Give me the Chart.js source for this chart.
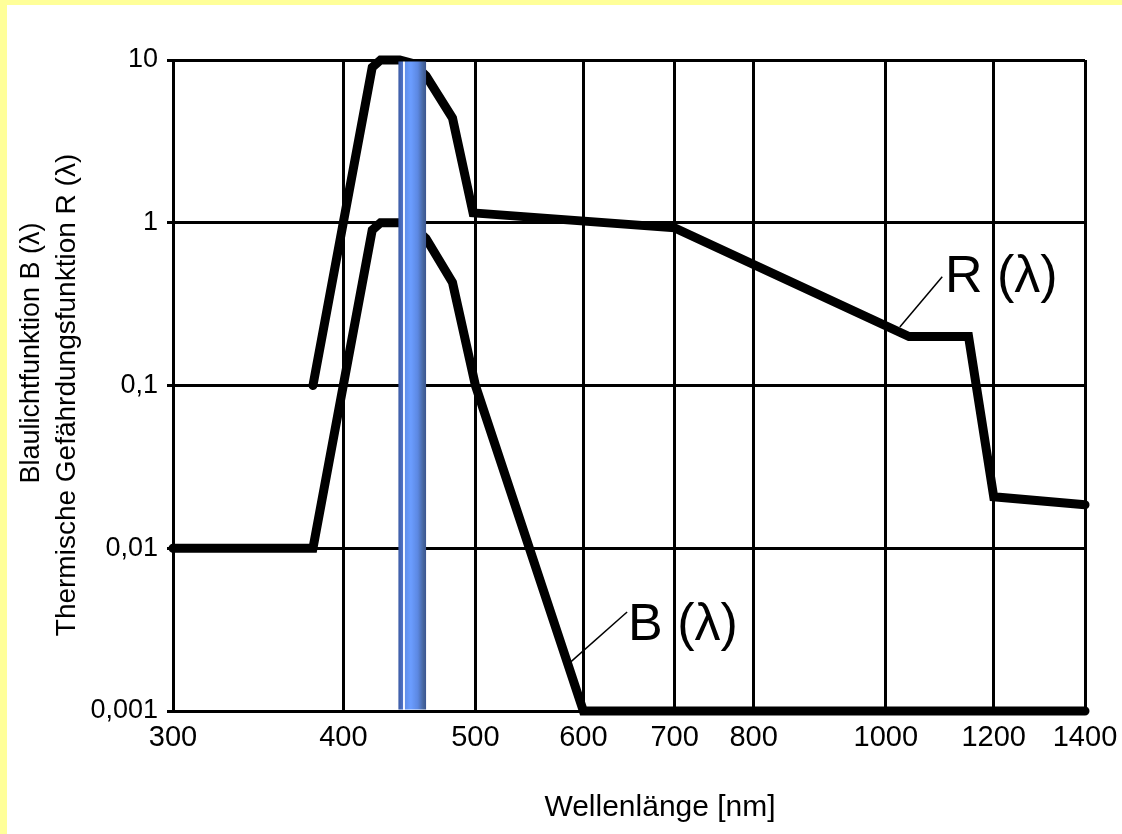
<!DOCTYPE html>
<html>
<head>
<meta charset="utf-8">
<title>Blaulicht- und Thermische Gefährdungsfunktion</title>
<script src="https://cdn.jsdelivr.net/npm/chart.js@4.4.1/dist/chart.umd.min.js"></script>
<style>
  html, body { margin: 0; padding: 0; }
  body { width: 1122px; height: 834px; background: #ffff99; position: relative; overflow: hidden; }
  #myChart { position: absolute; left: 7px; top: 5px; background: #ffffff; }
</style>
</head>
<body>
<canvas id="myChart" width="1115" height="829"></canvas>
<script>
// Blue light hazard function B(lambda)
const wavelengthB = [300, 380, 420, 426, 440, 450, 460, 481, 500, 600, 1400];
const valuesB = [0.01, 0.01, 0.9, 1.0, 1.0, 0.95, 0.8, 0.43, 0.1, 0.001, 0.001];

// Thermal hazard function R(lambda)
const wavelengthR = [380, 420, 426, 440, 450, 460, 481, 498, 700, 1040, 1150, 1200, 1400];
const valuesR = [0.1, 9, 10, 10, 9.5, 8, 4.4, 1.15, 0.93, 0.2, 0.2, 0.0207, 0.0185];

// blue band (nm)
const band = [439, 460];

const xTicks = [300, 400, 500, 600, 700, 800, 1000, 1200, 1400];
const yTicks = [0.001, 0.01, 0.1, 1, 10];

const xTitle = "Wellenlänge [nm]";
const yTitle = ["Blaulichtfunktion B (λ)", "Thermische Gefährdungsfunktion R (λ)"];

const FONT = '"Liberation Sans", Arial, sans-serif';

function toPoints(xs, ys) {
  return xs.map((x, i) => ({ x: x, y: ys[i] }));
}

// the blue bar, drawn over the curves
const bandPlugin = {
  id: "band",
  afterDatasetsDraw(chart) {
    const { ctx, chartArea, scales } = chart;
    const x0 = scales.x.getPixelForValue(band[0]);
    const x1 = scales.x.getPixelForValue(band[1]);
    const g = ctx.createLinearGradient(x0, 0, x1, 0);
    g.addColorStop(0, "#3d5ca6");
    g.addColorStop(0.16, "#4e72c6");
    g.addColorStop(0.18, "#f4f7ff");
    g.addColorStop(0.22, "#f4f7ff");
    g.addColorStop(0.24, "#5f8eea");
    g.addColorStop(0.45, "#6b9dff");
    g.addColorStop(0.7, "#5c88e2");
    g.addColorStop(0.9, "#46669f");
    g.addColorStop(1, "#3a5590");
    ctx.save();
    ctx.fillStyle = g;
    ctx.fillRect(x0, chartArea.top + 1.5, x1 - x0, chartArea.bottom - chartArea.top - 3);
    ctx.restore();
  }
};

// curve names with leader lines
const labelPlugin = {
  id: "curveLabels",
  afterDraw(chart, args, opts) {
    const { ctx, scales } = chart;
    ctx.save();
    opts.items.forEach(function (it) {
      ctx.strokeStyle = "#000";
      ctx.lineWidth = 1.5;
      ctx.beginPath();
      ctx.moveTo(scales.x.getPixelForValue(it.from[0]), scales.y.getPixelForValue(it.from[1]));
      ctx.lineTo(scales.x.getPixelForValue(it.to[0]), scales.y.getPixelForValue(it.to[1]));
      ctx.stroke();
      ctx.fillStyle = "#000";
      ctx.font = "52px " + FONT;
      ctx.textBaseline = "alphabetic";
      ctx.textAlign = "left";
      ctx.fillText(it.text, scales.x.getPixelForValue(it.at[0]), scales.y.getPixelForValue(it.at[1]));
    });
    ctx.restore();
  }
};

// axis titles (the x title sits right of centre, the two y lines are offset)
const titlePlugin = {
  id: "axisTitles",
  afterDraw(chart, args, opts) {
    const ctx = chart.ctx;
    ctx.save();
    ctx.fillStyle = "#000";
    ctx.textAlign = "center";
    ctx.textBaseline = "middle";
    ctx.font = opts.xSize + "px " + FONT;
    ctx.fillText(xTitle, opts.xPos[0], opts.xPos[1]);
    yTitle.forEach(function (line, i) {
      ctx.save();
      ctx.translate(opts.yPos[i][0], opts.yPos[i][1]);
      ctx.rotate(-Math.PI / 2);
      ctx.font = opts.ySizes[i] + "px " + FONT;
      ctx.fillText(line, 0, 0);
      ctx.restore();
    });
    ctx.restore();
  }
};

function noScalePadding(s) {
  s.paddingLeft = 0;
  s.paddingRight = 0;
  s.paddingTop = 0;
  s.paddingBottom = 0;
}

new Chart("myChart", {
  type: "line",
  data: {
    datasets: [
      {
        label: "B (λ)",
        data: toPoints(wavelengthB, valuesB),
        borderColor: "#000",
        borderWidth: 9,
        borderCapStyle: "round",
        borderJoinStyle: "miter",
        pointRadius: 0,
        clip: false
      },
      {
        label: "R (λ)",
        data: toPoints(wavelengthR, valuesR),
        borderColor: "#000",
        borderWidth: 9,
        borderCapStyle: "round",
        borderJoinStyle: "miter",
        pointRadius: 0,
        clip: false
      }
    ]
  },
  options: {
    responsive: false,
    animation: false,
    devicePixelRatio: 1,
    layout: { padding: { left: 0, top: 55, right: 37, bottom: 0 } },
    plugins: {
      legend: { display: false },
      tooltip: { enabled: false },
      curveLabels: {
        items: [
          { text: "R (λ)", at: [1105, 0.377], from: [1024, 0.229], to: [1100, 0.466] },
          { text: "B (λ)", at: [647, 0.00274], from: [584, 0.00192], to: [646, 0.00406] }
        ]
      },
      axisTitles: {
        xSize: 30,
        xPos: [653, 803],
        ySizes: [27, 28],
        yPos: [[25, 348], [60, 390]]
      }
    },
    scales: {
      x: {
        type: "logarithmic",
        min: 300,
        max: 1400,
        afterBuildTicks: (s) => { s.ticks = xTicks.map((v) => ({ value: v })); },
        afterFit: (s) => { s.height = 123; noScalePadding(s); },
        grid: { color: "#000", lineWidth: 3, drawTicks: false },
        border: { color: "#000", width: 3 },
        ticks: {
          color: "#000",
          padding: 10,
          maxRotation: 0,
          autoSkip: false,
          font: { family: FONT, size: 29 },
          callback: (v) => String(v)
        }
      },
      y: {
        type: "logarithmic",
        min: 0.001,
        max: 10,
        afterBuildTicks: (s) => { s.ticks = yTicks.map((v) => ({ value: v })); },
        afterFit: (s) => { s.width = 166; noScalePadding(s); },
        grid: { color: "#000", lineWidth: 3, tickLength: 6 },
        border: { color: "#000", width: 3 },
        ticks: {
          color: "#000",
          padding: 9,
          autoSkip: false,
          font: { family: FONT, size: 27 },
          callback: (v) => String(v).replace(".", ",")
        }
      }
    }
  },
  plugins: [bandPlugin, labelPlugin, titlePlugin]
});
</script>
</body>
</html>
